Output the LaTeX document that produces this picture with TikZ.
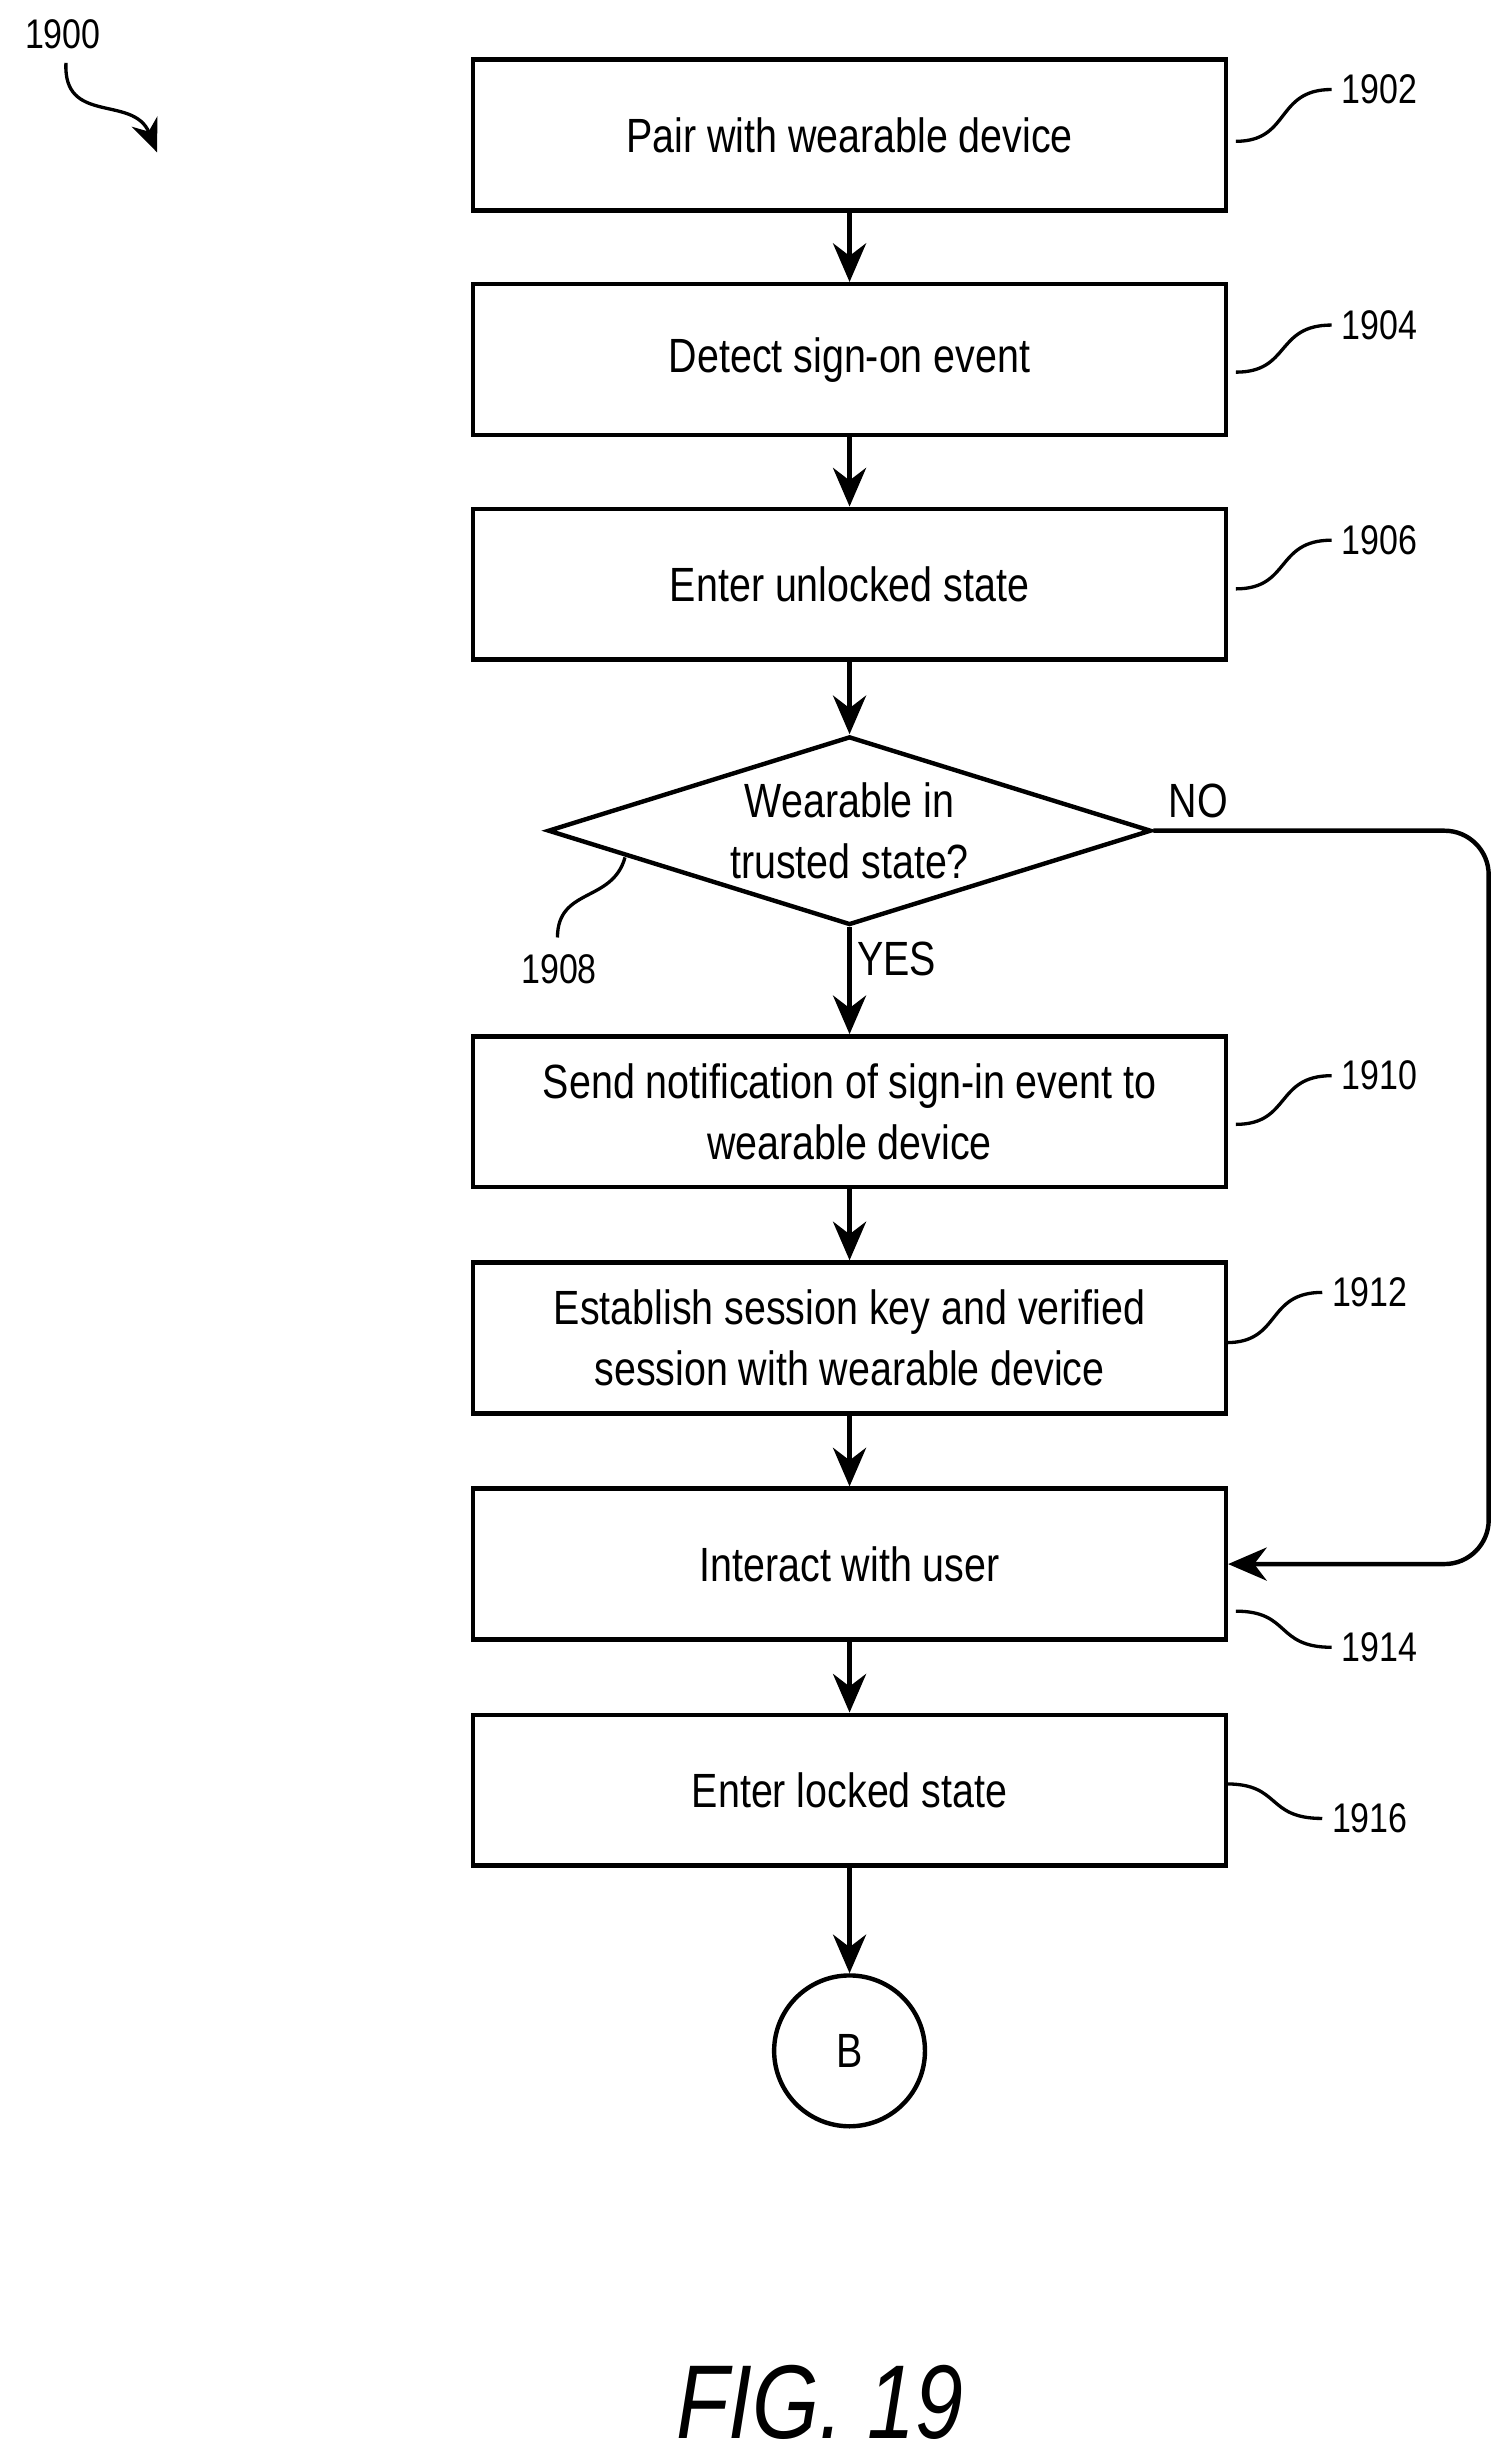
\documentclass[tikz,border=0pt]{standalone}
\usepackage{fontspec}
\setmainfont{Liberation Sans}[FakeStretch=0.82]
\usetikzlibrary{arrows.meta}
\usetikzlibrary{positioning}
\usetikzlibrary{shapes.geometric}

\tikzset{
  stage/.style = {draw, line width=0.8pt, minimum width=4.79cm, minimum height=0.96cm,
                 align=center, font=\fontsize{8.7}{11}\selectfont},
  test/.style = {draw, diamond, aspect=3.2, line width=0.8pt, minimum width=3.84cm,
                 minimum height=1.2cm, inner sep=0pt, align=center,
                 font=\fontsize{8.7}{11}\selectfont},
  flow/.style = {line width=0.8pt, -{Stealth[length=7pt,width=6pt]}},
  callout/.style = {line width=0.6pt},
  tag/.style = {font=\fontsize{7.5}{9}\selectfont, inner sep=1pt},
}

\begin{document}
\begin{tikzpicture}[x=0.01cm, y=-0.01cm]
  \useasboundingbox (0,0) rectangle (960,1564);

  % stages
  \node[stage] (pair)     at (541,86)   {Pair with wearable device};
  \node[stage] (detect)   at (541,229)  {Detect sign-on event};
  \node[stage] (unlock)   at (541,372)  {Enter unlocked state};
  \node[test]  (trusted)  at (541,529)  {Wearable in\\trusted state?};
  \node[stage] (notify)   at (541,708)  {Send notification of sign-in event to\\wearable device};
  \node[stage] (session)  at (541,852)  {Establish session key and verified\\session with wearable device};
  \node[stage] (interact) at (541,996)  {Interact with user};
  \node[stage] (lock)     at (541,1140) {Enter locked state};
  \node[draw, circle, line width=0.8pt, minimum size=0.96cm,
        font=\fontsize{8.7}{11}\selectfont] (B) at (541,1306) {B};

  \draw[flow] (pair) -- (detect);
  \draw[flow] (detect) -- (unlock);
  \draw[flow] (unlock) -- (trusted);
  \draw[flow] (trusted) -- node[right, tag, font=\fontsize{8.7}{11}\selectfont, pos=0.3] {YES} (notify);
  \draw[flow] (notify) -- (session);
  \draw[flow] (session) -- (interact);
  \draw[flow] (interact) -- (lock);
  \draw[flow] (lock) -- (B);
  \draw[flow, rounded corners=8pt] (trusted.east) -- (948,529) -- (948,996) -- (interact.east);
  \node[tag, font=\fontsize{8.7}{11}\selectfont] (no) at (763,510) {NO};

  % reference numerals
  \draw[callout] (787,90) .. controls (822,90) and (812,57) .. (848,57);
  \node[tag, anchor=west] (r1902) at (850,57) {1902};
  \draw[callout] (787,237) .. controls (822,237) and (812,207) .. (848,207);
  \node[tag, anchor=west] (r1904) at (850,207) {1904};
  \draw[callout] (787,375) .. controls (822,375) and (812,344) .. (848,344);
  \node[tag, anchor=west] (r1906) at (850,344) {1906};
  \draw[callout] (787,716) .. controls (822,716) and (812,685) .. (848,685);
  \node[tag, anchor=west] (r1910) at (850,685) {1910};
  \draw[callout] (781,855) .. controls (816,855) and (806,823) .. (842,823);
  \node[tag, anchor=west] (r1912) at (844,823) {1912};
  \draw[callout] (787,1026) .. controls (822,1026) and (812,1049) .. (848,1049);
  \node[tag, anchor=west] (r1914) at (850,1049) {1914};
  \draw[callout] (781,1136) .. controls (816,1136) and (806,1158) .. (842,1158);
  \node[tag, anchor=west] (r1916) at (844,1158) {1916};
  \draw[callout] (398,546) .. controls (390,575) and (355,565) .. (355,597);
  \node[tag] (r1908) at (356,617) {1908};

  \node[tag] (r1900) at (40,22) {1900};
  \draw[callout, -{Stealth[length=6pt,width=5pt]}] (42,40) .. controls (40,80) and (85,60) .. (100,97);

  \node[font=\fontsize{19}{22}\selectfont\itshape] (fig) at (522,1530) {FIG. 19};
\end{tikzpicture}
\end{document}
